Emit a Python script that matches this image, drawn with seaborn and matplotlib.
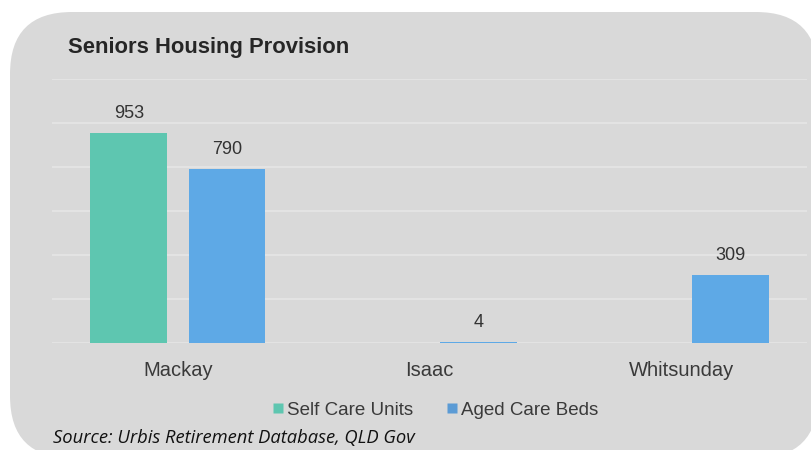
import matplotlib
matplotlib.use("Agg")
import matplotlib.pyplot as plt
from matplotlib.patches import FancyBboxPatch
from matplotlib.lines import Line2D
import seaborn as sns
import pandas as pd
import numpy as np

# ---- data ----
regions = ["Mackay", "Isaac", "Whitsunday"]
self_care_units = [953, np.nan, np.nan]
aged_care_beds = [790, 4, 309]
series_names = ["Self Care Units", "Aged Care Beds"]
y_ticks = [0, 200, 400, 600, 800, 1000, 1200]
title_text = "Seniors Housing Provision"
source_text = "Source: Urbis Retirement Database, QLD Gov"

colors = {"Self Care Units": "#5ec6b0", "Aged Care Beds": "#5ea9e6"}
legend_colors = {"Self Care Units": "#5ec6b0", "Aged Care Beds": "#5b9bd5"}

df = pd.DataFrame({
    "Region": regions * 2,
    "Type": [series_names[0]] * 3 + [series_names[1]] * 3,
    "Value": self_care_units + aged_care_beds,
}).dropna()

sns.set_theme(style="white")
plt.rcParams["font.family"] = ["Liberation Sans", "DejaVu Sans"]

W, H = 811, 450
fig = plt.figure(figsize=(W / 100, H / 100), dpi=100)
fig.patch.set_facecolor("white")

# rounded grey panel (display/pixel coordinates)
panel = FancyBboxPatch((10, H - 458), 808, 446,
                       boxstyle="round,pad=0,rounding_size=62",
                       transform=None, facecolor="#d9d9d9", edgecolor="none",
                       zorder=-10)
fig.patches.append(panel)

ax = fig.add_axes([52 / W, 1 - 343 / H, (807 - 52) / W, (343 - 79) / H])
ax.set_zorder(2)
ax.set_facecolor("none")

sns.barplot(data=df, x="Region", y="Value", hue="Type", order=regions,
            hue_order=series_names, palette=colors, width=0.78, gap=0.22,
            ax=ax, legend=False, saturation=1, zorder=3,
            edgecolor="none", linewidth=0)

ax.set_ylim(0, 1200)
ax.set_yticks(y_ticks)
ax.set_yticklabels([])
ax.set_axisbelow(True)
ax.grid(axis="y", color="#e6e6e6", linewidth=1.2)
ax.grid(axis="x", visible=False)
for s in ax.spines.values():
    s.set_visible(False)
ax.tick_params(axis="x", length=0, pad=13, labelsize=14.5, labelcolor="#3a3a3a")
ax.tick_params(axis="y", length=0)
ax.set_xlabel("")
ax.set_ylabel("")
ax.set_xlim(-0.5, 2.5)

for cont in ax.containers:
    ax.bar_label(cont, fmt="%d", padding=8, fontsize=13, color="#333333")

fig.text(68 / W, 1 - 47 / H, title_text, fontsize=15.8, fontweight="bold",
         color="#262626", va="center", ha="left")

handles = [Line2D([0], [0], marker="s", linestyle="none", markersize=6.5,
                  markerfacecolor=legend_colors[n], markeredgecolor="none")
           for n in series_names]
fig.legend(handles, series_names, loc="center",
           bbox_to_anchor=(434 / W, 1 - 410 / H), ncol=2, frameon=False,
           fontsize=13.5, handletextpad=0.05, columnspacing=1.6,
           labelcolor="#3a3a3a", handlelength=0.9)

fig.text(53 / W, 1 - 438 / H, source_text, fontsize=13.2, style="italic",
         family=["Open Sans", "DejaVu Sans"], color="#111111",
         va="center", ha="left")

fig.savefig("out.png", dpi=100, facecolor="white")
